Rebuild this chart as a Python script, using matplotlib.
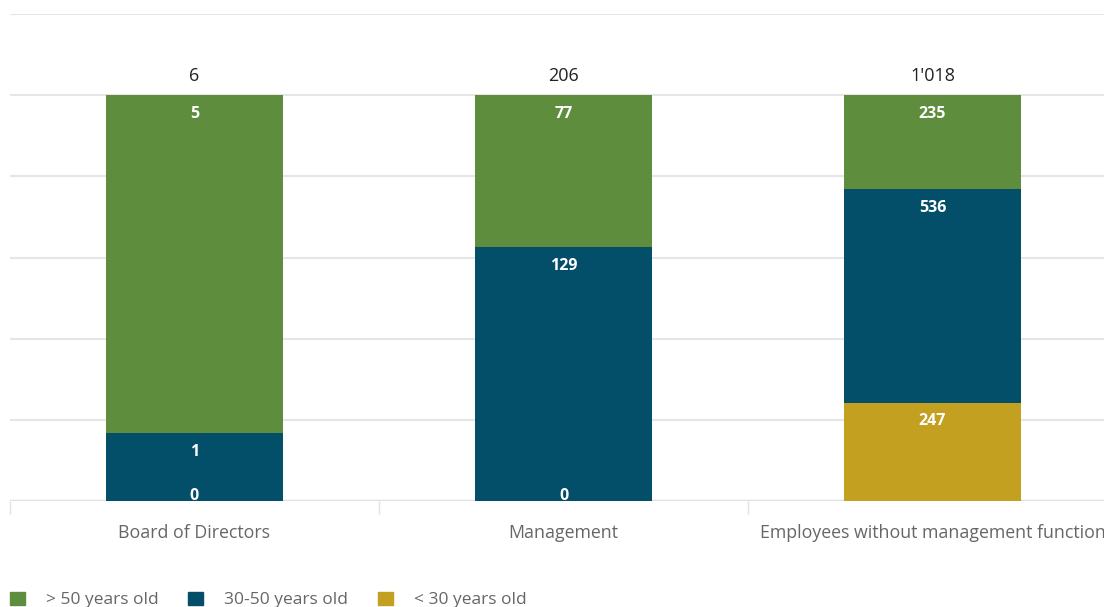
import numpy as np
import matplotlib.pyplot as plt

categories = ['Board of Directors', 'Management', 'Employees without management function']
over_50 = [5, 77, 235]
mid_30_50 = [1, 129, 536]
under_30 = [0, 0, 247]
totals_text = ['6', '206', "1'018"]

series_names = ['> 50 years old', '30-50 years old', '< 30 years old']
colors = ['#5f8d3e', '#034f69', '#c4a020']

plt.rcParams['font.family'] = ['Open Sans', 'DejaVu Sans']

fig = plt.figure(figsize=(11.04, 6.07), dpi=100)
ax = fig.add_axes([10 / 1104, 1 - 501 / 607, 1107 / 1104, 487 / 607])

x = np.arange(len(categories))
young = np.array(under_30, dtype=float)
mid = np.array(mid_30_50, dtype=float)
old = np.array(over_50, dtype=float)
tot = young + mid + old

bottoms = np.zeros(len(categories))
stack = [(young, colors[2], under_30), (mid, colors[1], mid_30_50), (old, colors[0], over_50)]
width = 0.48
for vals, col, raw in stack:
    share = vals / tot
    ax.bar(x, share, width, bottom=bottoms, color=col, zorder=3)
    tops = bottoms + share
    for xi, t, v in zip(x, tops, raw):
        y = max(t - 0.046, 0.013)
        ax.text(xi, y, str(v), color='white', fontsize=11.5, fontweight='bold',
                ha='center', va='center', zorder=4)
    bottoms = tops

for xi, t in zip(x, totals_text):
    ax.text(xi, 1.047, t, color='#222222', fontsize=13, ha='center', va='center')

ax.set_xlim(-0.5, 2.5)
ax.set_ylim(0, 1.2)
ax.set_yticks(np.arange(0, 1.21, 0.2))
ax.yaxis.grid(True, color='#e6e6e6', linewidth=1.5, zorder=0)
ax.tick_params(axis='y', length=0, labelleft=False)
for s in ['top', 'right', 'left', 'bottom']:
    ax.spines[s].set_visible(False)
ax.axhline(0, color='#e0e0e0', linewidth=2.5, zorder=2)

ax.set_xticks(x)
ax.set_xticklabels(categories, color='#666666', fontsize=12.8)
ax.tick_params(axis='x', which='major', length=0, pad=16.5)
ax.set_xticks([-0.5, 0.5, 1.5], minor=True)
ax.tick_params(axis='x', which='minor', length=9, width=1, color='#dde3ee')

handles = [plt.Rectangle((0, 0), 1, 1, color=c) for c in colors]
fig.legend(handles, series_names, loc='center left', bbox_to_anchor=(10 / 1104, 1 - 600 / 607),
           ncol=3, frameon=False, fontsize=12.5, handlelength=0.86, handleheight=0.86,
           handletextpad=1.2, columnspacing=1.72, labelcolor='#666666', borderaxespad=0,
           borderpad=0)

fig.savefig('out.png', dpi=100)
